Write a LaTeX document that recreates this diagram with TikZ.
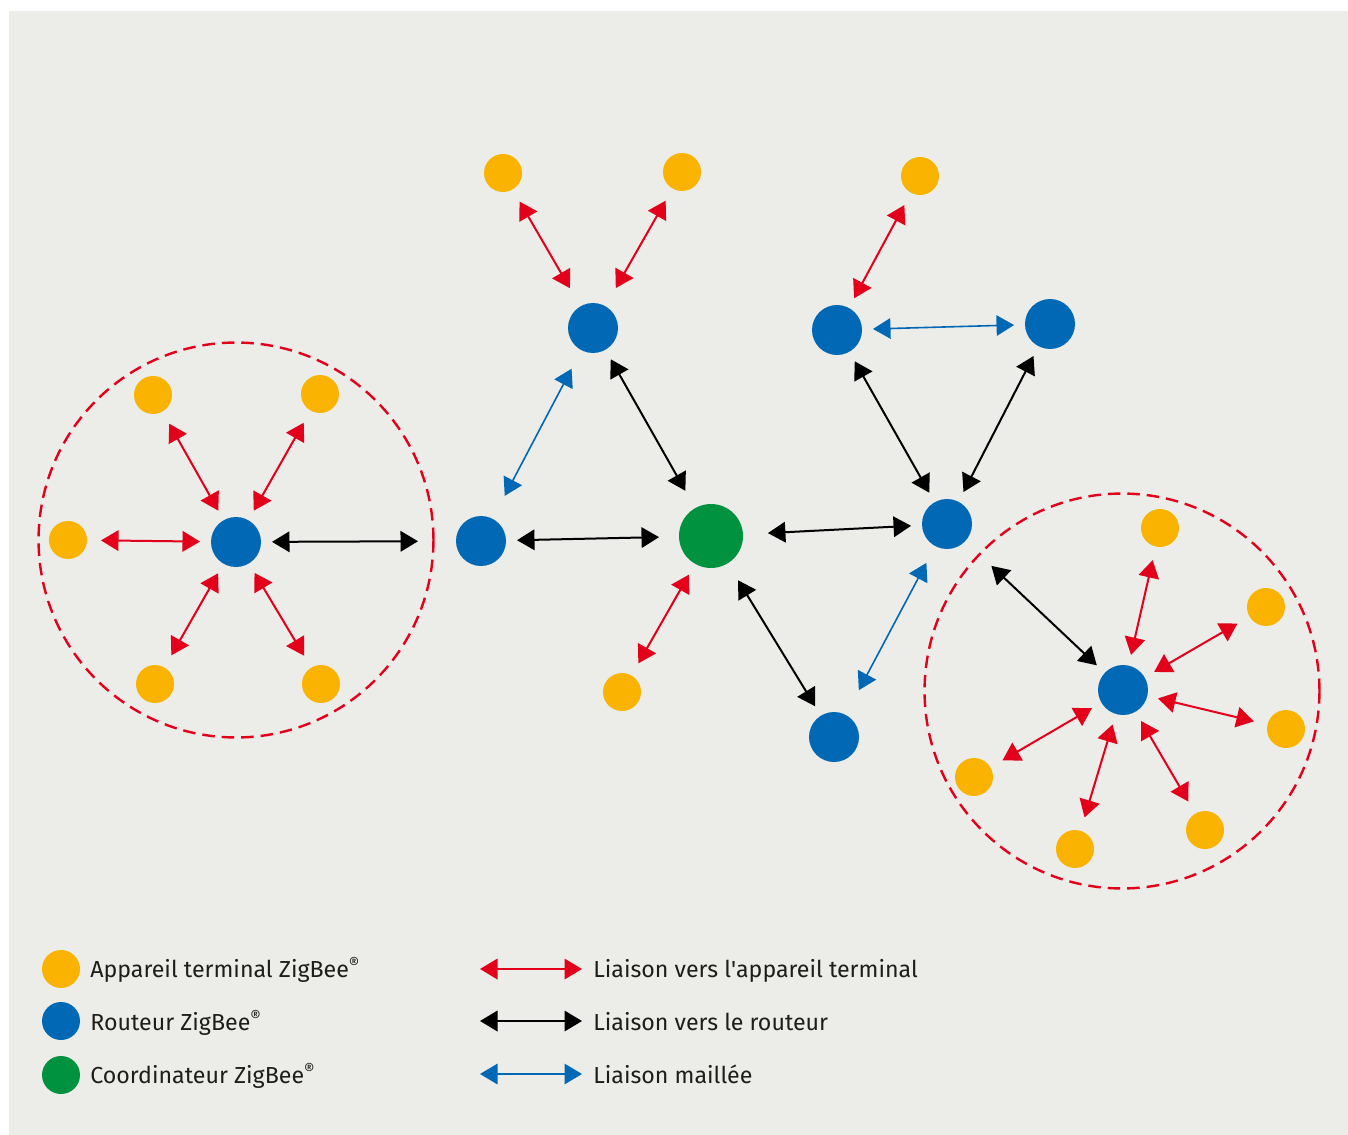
\documentclass[tikz,border=0pt]{standalone}
\usepackage{fontspec}
\setmainfont{Fira Sans}
\usetikzlibrary{arrows.meta}
\definecolor{zbgray}{HTML}{ECECE8}
\definecolor{zbyellow}{HTML}{F9B300}
\definecolor{zbblue}{HTML}{0068B4}
\definecolor{zbgreen}{HTML}{00923F}
\definecolor{zbred}{HTML}{E2001A}
\definecolor{zbtext}{HTML}{1D1D1B}

\tikzset{
  enddev/.style={circle, fill=zbyellow, minimum size=7.6mm, inner sep=0pt, outer sep=2.8mm},
  router/.style={circle, fill=zbblue, minimum size=10mm, inner sep=0pt, outer sep=2.2mm},
  coordnode/.style={circle, fill=zbgreen, minimum size=12.8mm, inner sep=0pt, outer sep=4mm},
  link/.style={line width=0.4mm, {Triangle[length=3.5mm,width=4.1mm]}-{Triangle[length=3.5mm,width=4.1mm]}},
  toend/.style={link, draw=zbred},
  torouter/.style={link, draw=black},
  mesh/.style={link, line width=0.32mm, draw=zbblue},
  zone/.style={circle, draw=zbred, line width=0.48mm, dash pattern=on 2.5mm off 1.4mm,
               minimum size=7.9cm, inner sep=0pt},
  legend/.style={anchor=base west, font=\fontsize{13.2}{15}\selectfont, text=zbtext, inner sep=0pt}
}

\begin{document}
\begin{tikzpicture}[x=0.02cm, y=-0.02cm]
\useasboundingbox (0,0) rectangle (1348,1135);
\fill[zbgray] (9,11) rectangle (1348,1135);

% left cluster
\node[zone] (zoneL) at (236,540) {};
\node[router] (rL) at (236,542) {};
\node[enddev] (eL1) at (153,395) {};
\node[enddev] (eL2) at (320,394) {};
\node[enddev] (eL3) at (68,540) {};
\node[enddev] (eL4) at (155,684) {};
\node[enddev] (eL5) at (321,684) {};
\foreach \e in {eL1,eL2,eL3,eL4,eL5}
  \draw[toend] (rL) -- (\e);

% coordinator and routers in the middle
\node[coordnode] (zc) at (711,536) {};
\node[router] (rM) at (481,541) {};
\node[router] (rT) at (593,328) {};
\node[router] (rB) at (834,737) {};
\node[router] (rR) at (947,524) {};
\node[router] (rTa) at (837,330) {};
\node[router] (rTb) at (1050,324) {};
\node[enddev] (eT1) at (503,173) {};
\node[enddev] (eT2) at (682,172) {};
\node[enddev] (eTa) at (920,176) {};
\node[enddev] (eC) at (622,692) {};

\draw[torouter, shorten >=5.4mm] (rL) -- (rM);
\draw[torouter] (rM) -- (zc);
\draw[torouter] (rT) -- (zc);
\draw[torouter, shorten <=1mm] (zc) -- (rR);
\draw[torouter] (zc) -- (rB);
\draw[torouter] (rTa) -- (rR);
\draw[torouter] (rTb) -- (rR);
\draw[mesh, shorten <=2mm, shorten >=3mm] (rT) -- (rM);
\draw[mesh, shorten <=3.4mm, shorten >=1.6mm] (rB) -- (rR);
\draw[mesh] (rTa) -- (rTb);
\draw[toend, shorten >=2mm] (eT1) -- (rT);
\draw[toend, shorten >=2mm] (eT2) -- (rT);
\draw[toend] (eTa) -- (rTa);
\draw[toend, shorten >=-1.5mm] (eC) -- (zc);

% right cluster
\node[zone] (zoneR) at (1122,691) {};
\node[router] (rR2) at (1123,690) {};
\node[enddev] (eR1) at (1160,528) {};
\node[enddev] (eR2) at (1266,607) {};
\node[enddev] (eR3) at (1286,729) {};
\node[enddev] (eR4) at (1205,830) {};
\node[enddev] (eR5) at (1075,849) {};
\node[enddev] (eR6) at (974,777) {};
\foreach \e in {eR1,eR2,eR3,eR4,eR5,eR6}
  \draw[toend] (rR2) -- (\e);
\draw[torouter, shorten <=5mm] (rR) -- (rR2);

% legend
\node[enddev, minimum size=7.6mm] (lgE) at (61,969) {};
\node[router, minimum size=7.6mm] (lgR) at (61,1021) {};
\node[coordnode, minimum size=7.6mm] (lgC) at (61,1075) {};
\node[legend] (lgEt) at (90,977) {Appareil terminal ZigBee\textsuperscript{®}};
\node[legend] (lgRt) at (90,1030) {Routeur ZigBee\textsuperscript{®}};
\node[legend] (lgCt) at (90,1083) {Coordinateur ZigBee\textsuperscript{®}};

\coordinate (lgA1) at (480,969);  \coordinate (lgA2) at (582,969);
\coordinate (lgB1) at (480,1021); \coordinate (lgB2) at (582,1021);
\coordinate (lgM1) at (480,1074); \coordinate (lgM2) at (582,1074);
\draw[toend] (lgA1) -- (lgA2);
\draw[torouter] (lgB1) -- (lgB2);
\draw[mesh] (lgM1) -- (lgM2);
\node[legend] (lgAt) at (593,977) {Liaison vers l\textquotesingle appareil terminal};
\node[legend] (lgBt) at (593,1030) {Liaison vers le routeur};
\node[legend] (lgMt) at (593,1083) {Liaison maillée};
\end{tikzpicture}
\end{document}
